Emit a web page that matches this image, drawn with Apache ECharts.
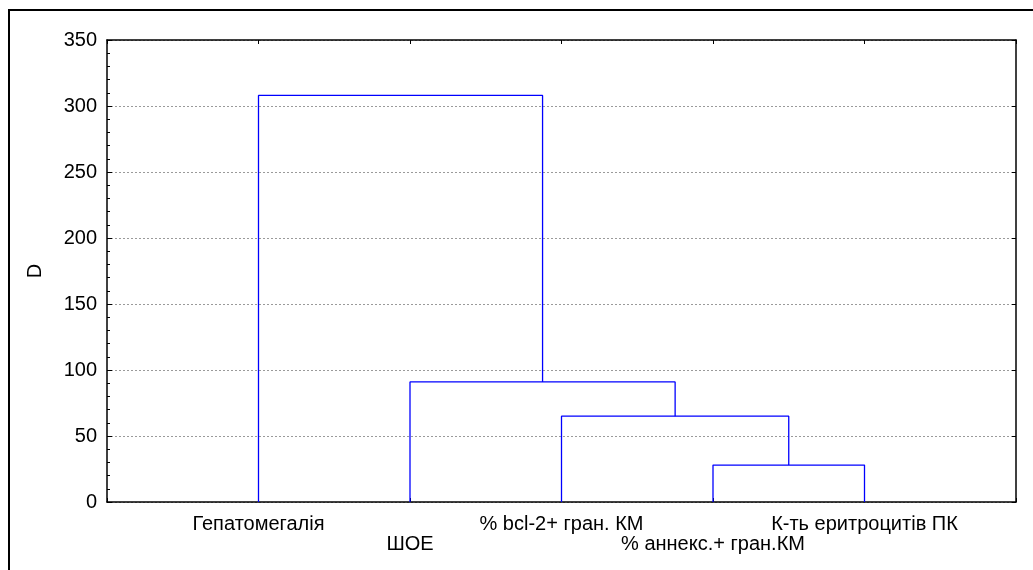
<!DOCTYPE html>
<html>
<head>
<meta charset="utf-8">
<script src="https://cdn.jsdelivr.net/npm/echarts@6/dist/echarts.min.js"></script>
<style>
  html, body { margin: 0; padding: 0; background: #fff; }
  #chart { width: 1033px; height: 570px; }
</style>
</head>
<body>
<div id="chart"></div>
<script>
// leaves in dendrogram order
const leaves = ['Гепатомегалія', 'ШОЕ', '% bcl-2+ гран. КМ', '% аннекс.+ гран.КМ', 'К-ть еритроцитів ПК']
// merges: [left cluster, right cluster, height]; clusters 0..4 are leaves, 5.. are previous merges
const merges = [
  [3, 4, 28],
  [2, 5, 65],
  [1, 6, 91],
  [0, 7, 308],
]
const yTicks = [0, 50, 100, 150, 200, 250, 300, 350]

const font = 'Liberation Sans, Arial, sans-serif'

// positions of clusters on the x axis (leaves sit at 1..5)
const pos = leaves.map((_, i) => i + 1)
const hgt = leaves.map(() => 0)
const series = merges.map(([a, b, h]) => {
  const pts = [[pos[a], hgt[a]], [pos[a], h], [pos[b], h], [pos[b], hgt[b]]]
  pos.push((pos[a] + pos[b]) / 2)
  hgt.push(h)
  return {
    type: 'line',
    data: pts,
    symbol: 'none',
    silent: true,
    lineStyle: { color: '#0000ff', width: 1.3 },
  }
})

const frameAxis = {
  axisLine: { show: true, onZero: false, lineStyle: { color: '#000', width: 1.5 } },
  axisTick: { show: true, inside: true, length: 4, lineStyle: { color: '#000' } },
  axisLabel: { show: false },
  splitLine: { show: false },
}

const chart = echarts.init(document.getElementById('chart'))
chart.setOption({
  animation: false,
  graphic: [
    {
      type: 'rect',
      shape: { x: 9, y: 10, width: 1100, height: 700 },
      style: { fill: 'none', stroke: '#000', lineWidth: 2 },
      silent: true,
    },
  ],
  grid: { left: 107, right: 17, top: 40, bottom: 68 },
  xAxis: [
    {
      type: 'value',
      min: 0,
      max: leaves.length + 1,
      interval: 1,
      position: 'bottom',
      ...frameAxis,
      axisLabel: {
        color: '#000',
        fontFamily: font,
        fontSize: 20,
        lineHeight: 20,
        margin: 12,
        formatter: (v) => {
          const i = Math.round(v) - 1
          if (i < 0 || i >= leaves.length) return ''
          return i % 2 === 1 ? '\n' + leaves[i] : leaves[i]
        },
      },
    },
    {
      type: 'value',
      min: 0,
      max: leaves.length + 1,
      interval: 1,
      position: 'top',
      ...frameAxis,
    },
  ],
  yAxis: [
    {
      type: 'value',
      min: yTicks[0],
      max: yTicks[yTicks.length - 1],
      interval: 50,
      position: 'left',
      name: 'D',
      nameLocation: 'middle',
      nameGap: 62,
      nameRotate: 90,
      nameTextStyle: { color: '#000', fontFamily: font, fontSize: 20 },
      ...frameAxis,
      axisTick: { show: true, inside: true, length: 5, lineStyle: { color: '#000' } },
      minorTick: { show: true, splitNumber: 5, length: 3, lineStyle: { color: '#000' } },
      axisLabel: {
        color: '#000',
        fontFamily: font,
        fontSize: 20,
        margin: 10,
      },
      splitLine: {
        show: true,
        lineStyle: { color: '#9a9a9a', type: [2, 2], width: 1 },
      },
    },
    {
      type: 'value',
      min: yTicks[0],
      max: yTicks[yTicks.length - 1],
      interval: 50,
      position: 'right',
      ...frameAxis,
    },
  ],
  series,
})
</script>
</body>
</html>
